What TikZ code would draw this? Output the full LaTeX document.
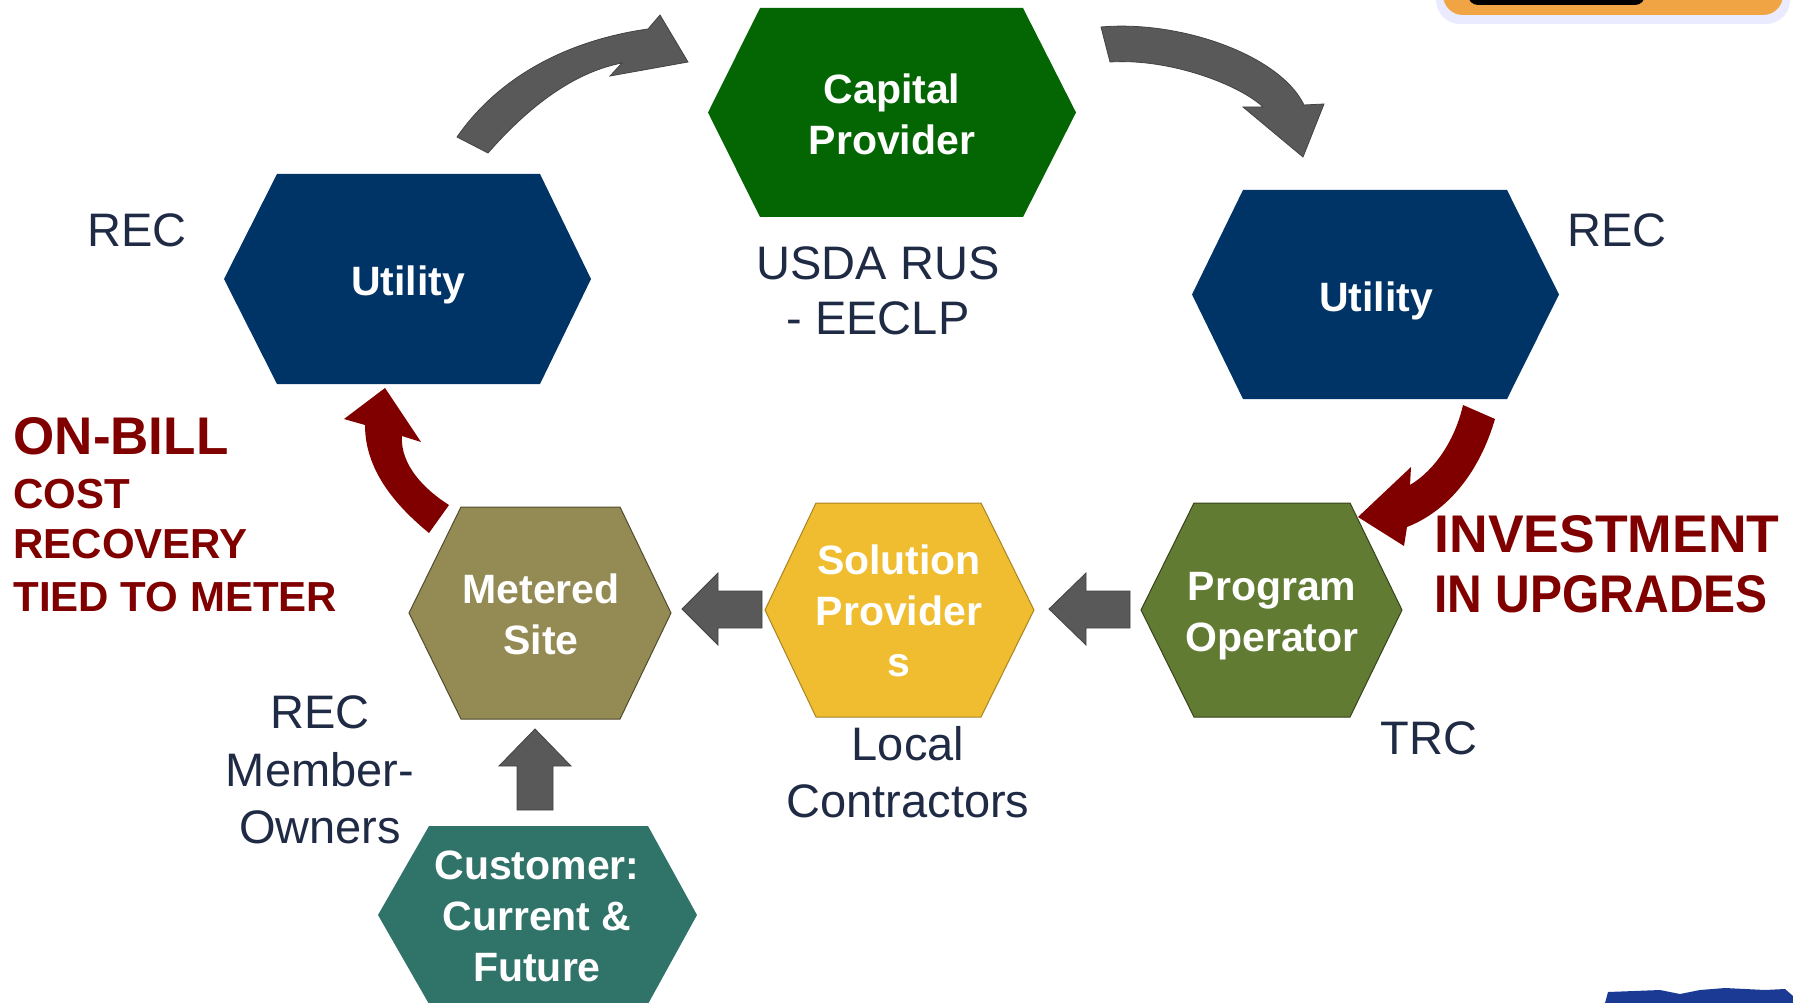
\documentclass[tikz,border=0pt]{standalone}
\usepackage{fontspec}
\usepackage{graphicx}
\setmainfont{Liberation Sans}
\definecolor{capgreen}{HTML}{036603}
\definecolor{utilnavy}{HTML}{003366}
\definecolor{meterolive}{HTML}{948A54}
\definecolor{solgold}{HTML}{F0BC30}
\definecolor{proggreen}{HTML}{617B32}
\definecolor{custteal}{HTML}{2F7369}
\definecolor{labelnavy}{HTML}{1F2A44}
\definecolor{darkred}{HTML}{800000}
\definecolor{arrowgray}{HTML}{595959}
\definecolor{cornerorange}{HTML}{F0A444}
\definecolor{cornerblue}{HTML}{1B3A94}
\begin{document}
\begin{tikzpicture}[x=1pt,y=-1pt,
  hextext/.style={font=\bfseries\fontsize{41}{51}\selectfont, text=white, align=center},
  lbl/.style={font=\fontsize{47}{56}\selectfont, text=labelnavy, anchor=base},
  redbig/.style={font=\bfseries\fontsize{53}{61}\selectfont, text=darkred, anchor=base west},
  redsmall/.style={font=\bfseries\fontsize{42}{51}\selectfont, text=darkred, anchor=base west},
  grayarrow/.style={fill=arrowgray, draw=arrowgray!75!black, line width=0.8pt, line join=miter},
  redarrow/.style={fill=darkred, draw=none}]
\useasboundingbox (0,0) rectangle (1793,1003);

% corner decorations
\fill[blue!8!white, rounded corners=24pt] (1436,-40) -- (1436,24) -- (1790,24) -- (1790,-40) -- cycle;
\fill[cornerorange, rounded corners=20pt] (1443,-40) -- (1443,15) -- (1783,15) -- (1783,-40) -- cycle;
\fill[black, rounded corners=10pt] (1468,-30) -- (1468,5) -- (1645,5) -- (1645,-30) -- cycle;
\fill[cornerblue] (1605,1003) -- (1608,992) -- (1660,990) -- (1680,994) -- (1700,990) -- (1725,988) -- (1765,990) -- (1785,989) -- (1793,996) -- (1793,1003) -- cycle;

% hexagons
\fill[capgreen] (708,112.5) -- (760,8) -- (1023,8) -- (1076,112.5) -- (1023,217) -- (760,217) -- cycle;
\fill[utilnavy] (224,279) -- (277,174) -- (540,174) -- (591,279) -- (540,384) -- (277,384) -- cycle;
\fill[utilnavy] (1192,294.5) -- (1243,190) -- (1507,190) -- (1559,294.5) -- (1507,399) -- (1243,399) -- cycle;
\filldraw[fill=meterolive, draw=meterolive!55!black, line width=1pt] (409,613) -- (461,507) -- (620,507) -- (671,613) -- (620,719) -- (461,719) -- cycle;
\filldraw[fill=solgold, draw=solgold!70!black, line width=1pt] (765,610) -- (816,503) -- (981,503) -- (1034,610) -- (981,717) -- (816,717) -- cycle;
\filldraw[fill=proggreen, draw=proggreen!55!black, line width=1pt] (1141,610) -- (1194,503) -- (1350,503) -- (1402,610) -- (1350,717) -- (1194,717) -- cycle;
\fill[custteal] (378,915) -- (429,826) -- (648,826) -- (697,915) -- (648,1004) -- (429,1004) -- cycle;

% hexagon texts
\node[hextext] (cap) at (892,114) {Capital\\Provider};
\node[hextext] (utilL) at (408,285) {Utility};
\node[hextext] (utilR) at (1376,301) {Utility};
\node[hextext] (meter) at (541,614) {Metered\\Site};
\node[hextext] (sol) at (899,611) {Solution\\Provider\\s};
\node[hextext] (prog) at (1272,616) {Program\\Operator};
\node[hextext] (cust) at (537,916) {Customer:\\Current \&\\Future};

% labels
\node[lbl, anchor=base west] (recL) at (84,246) {REC};
\node[lbl, anchor=base west] (recR) at (1564,246) {REC};
\node[lbl] (usda1) at (878,279) {USDA RUS};
\node[lbl] (usda2) at (878,334) {- EECLP};
\node[lbl] (mem1) at (320,728) {REC};
\node[lbl] (mem2) at (320,786) {Member-};
\node[lbl] (mem3) at (320,843) {Owners};
\node[lbl] (loc1) at (908,760) {Local};
\node[lbl] (loc2) at (908,817) {Contractors};
\node[lbl] (trc) at (1429,754) {TRC};

% red texts
\node[redbig] (onbill) at (10,454) {ON-BILL};
\node[redsmall] (cost) at (10,508) {COST};
\node[redsmall] (recov) at (10,558) {RECOVERY};
\node[redsmall] (tied) at (10,611) {TIED TO METER};
\node[redbig] (inv1) at (1431,552) {\scalebox{1.01}[1]{INVESTMENT}};
\node[redbig] (inv2) at (1431,612) {\scalebox{0.905}[1]{IN UPGRADES}};

% straight gray arrows
\draw[grayarrow] (762,591) -- (718,591) -- (718,573) -- (682,609) -- (718,645) -- (718,628) -- (762,628) -- cycle;
\draw[grayarrow] (1130,591) -- (1086,591) -- (1086,573) -- (1049,609) -- (1086,645) -- (1086,628) -- (1130,628) -- cycle;
\draw[grayarrow] (517,810) -- (517,766) -- (499,766) -- (535,729) -- (571,766) -- (553,766) -- (553,810) -- cycle;

% curved gray arrows
\draw[grayarrow] (457,137) .. controls (500,75) and (570,40) .. (648,29) -- (660,15) -- (688,62) -- (610,76) -- (622,63) .. controls (575,72) and (530,105) .. (488,153) -- cycle;
\draw[grayarrow] (1101,27) .. controls (1180,20) and (1280,55) .. (1304,105) -- (1324,104) -- (1303,157) -- (1243,107) -- (1263,107) .. controls (1240,85) and (1170,58) .. (1110,62) -- cycle;

% curved red arrows
\fill[redarrow] (429,533) .. controls (395,505) and (365,470) .. (365,425) -- (344,419) -- (385,388) -- (421,442) -- (402,436) .. controls (400,465) and (425,490) .. (449,505) -- cycle;
\fill[redarrow] (1463,405) .. controls (1455,440) and (1435,470) .. (1410,485) -- (1411,467) -- (1358,517) -- (1404,546) -- (1407,527) .. controls (1450,510) and (1480,470) .. (1495,419) -- cycle;
\end{tikzpicture}
\end{document}
